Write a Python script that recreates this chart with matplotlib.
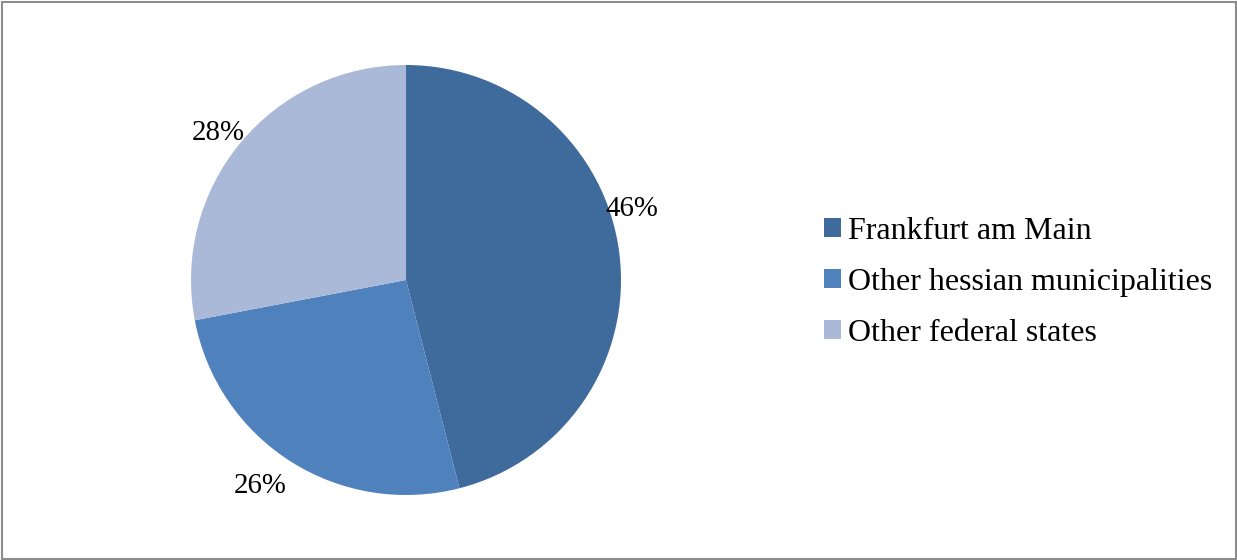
import matplotlib
matplotlib.use("Agg")
import matplotlib.pyplot as plt
from matplotlib.patches import Rectangle, Patch

# Origin of residents by region
categories = ["Frankfurt am Main", "Other hessian municipalities", "Other federal states"]
shares = [46, 26, 28]
colors = ["#3F6A9C", "#4F81BD", "#AAB9D8"]
# label anchor points, in units of the pie radius
label_xy = [(1.051, 0.330), (-0.679, -0.958), (-0.874, 0.684)]

plt.rcParams["font.family"] = ["Liberation Serif", "DejaVu Serif"]

W, H = 1237, 560
fig = plt.figure(figsize=(W / 100, H / 100), dpi=100)

cx, cy, r = 406, 280, 215
ax = fig.add_axes([(cx - r) / W, (H - cy - r) / H, 2 * r / W, 2 * r / H])
wedges, _ = ax.pie(shares, colors=colors, startangle=90, counterclock=False,
                   radius=1, wedgeprops=dict(linewidth=0))
ax.set_xlim(-1, 1)
ax.set_ylim(-1, 1)
ax.set_aspect("auto")
ax.axis("off")

for v, (x, y) in zip(shares, label_xy):
    ax.text(x, y, f"{v}%", ha="center", va="center", fontsize=20.8, color="black",
            clip_on=False)

handles = [Patch(facecolor=c, edgecolor="none") for c in colors]
fig.legend(handles, categories, loc="center left",
           bbox_to_anchor=(824 / W, 0.5 - 2.5 / H),
           frameon=False, fontsize=23, borderpad=0, borderaxespad=0,
           handlelength=0.52, handleheight=0.52, handletextpad=0.24,
           labelspacing=0.69)

fig.patches.append(Rectangle((1.5 / W, 1.5 / H), 1 - 3 / W, 1 - 3 / H,
                             transform=fig.transFigure, fill=False,
                             edgecolor="#8C8C8C", linewidth=1.5))

fig.savefig("out.png", dpi=100, facecolor="white")
